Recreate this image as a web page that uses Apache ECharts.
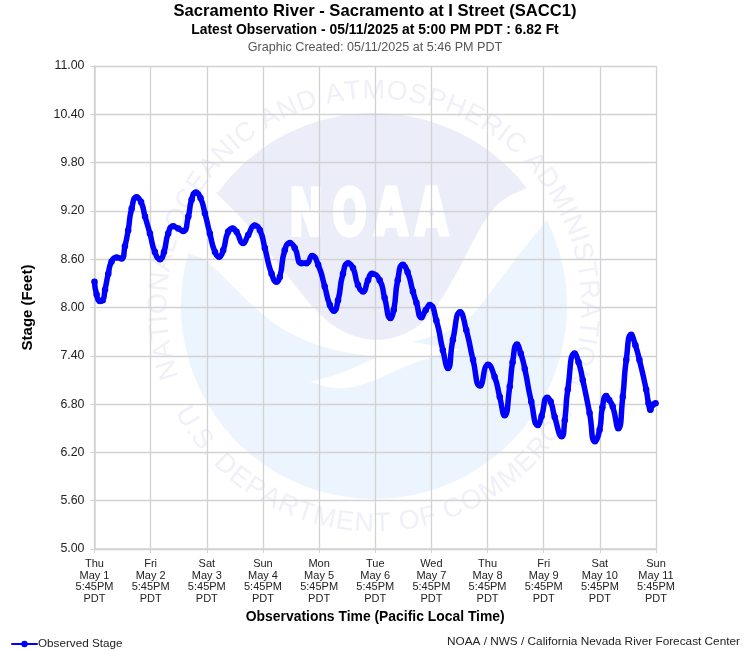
<!DOCTYPE html>
<html>
<head>
<meta charset="utf-8">
<title>Sacramento River - Sacramento at I Street (SACC1)</title>
<script src="https://cdn.jsdelivr.net/npm/echarts@6/dist/echarts.min.js"></script>
<style>
	html, body { margin: 0; padding: 0; background: #fff; }
	#chart { width: 750px; height: 650px; }
</style>
</head>
<body>
<div id="chart"></div>
<script>
// hours after Thu May 1 5:45PM
const obsHours = [
	0, 0.9, 2.3, 3.5, 4.5, 5.9, 7.3, 9.5, 11.6, 13, 14.4, 15.9, 18, 19.9, 21.6, 23.7, 25.8, 28, 29.7, 31.5,
	33.6, 35.8, 37.9, 40.1, 41.5, 43.3, 45.3, 47.2, 49.3, 51.5, 53.3, 55, 57.1, 59, 60.7, 63.5, 65.7, 68.5, 70.7, 72.8,
	75.7, 77.8, 79.2, 81.3, 83.5, 85.6, 88.5, 90.6, 93, 95.6, 98.4, 100.6, 102.3, 104.1, 106.2, 108.4, 110.5, 112.6, 114.8, 116.9,
	118.6, 121.9, 124, 126.5, 127.9, 129.6, 131.8, 133.8, 136.1, 137.6, 139.7, 141.6, 143.3, 146.1, 148.9, 151.1, 153.2, 156.3, 158.9, 161.8,
	164.8, 168.2, 171, 173.2, 175.3, 177.5, 178.7, 180.6, 182.2, 183.9, 186.7, 189.5, 191.1, 193.5, 195, 196.7, 199.7, 201, 202.3, 205.2,
	206.9, 208.7, 211.6, 213.9, 215.9, 217.1, 218.7, 220, 221.5, 223.9, 225.8, 227.3, 229.4, 231.2, 232.9, 235.8, 236.8, 237.6, 238.5, 239.8
];
const obsStage = [
	8.32, 8.16, 8.08, 8.09, 8.22, 8.42, 8.57, 8.62, 8.61, 8.76, 8.96, 9.23, 9.37, 9.31, 9.13, 8.92, 8.69, 8.60, 8.69, 8.92,
	9.01, 8.98, 8.95, 9.13, 9.34, 9.43, 9.36, 9.17, 8.92, 8.69, 8.63, 8.71, 8.94, 8.98, 8.94, 8.80, 8.90, 9.02, 8.96, 8.74,
	8.42, 8.32, 8.38, 8.71, 8.80, 8.74, 8.55, 8.55, 8.64, 8.53, 8.26, 8.03, 7.96, 8.09, 8.42, 8.55, 8.49, 8.28, 8.20, 8.34,
	8.42, 8.34, 8.12, 7.87, 7.97, 8.34, 8.53, 8.44, 8.20, 8.06, 7.88, 7.97, 8.03, 7.84, 7.47, 7.25, 7.60, 7.94, 7.72, 7.35,
	7.03, 7.29, 7.14, 6.89, 6.66, 7.02, 7.32, 7.54, 7.43, 7.24, 6.83, 6.54, 6.65, 6.88, 6.83, 6.64, 6.40, 6.60, 6.98, 7.43,
	7.32, 7.10, 6.69, 6.34, 6.48, 6.76, 6.90, 6.85, 6.77, 6.50, 6.89, 7.35, 7.66, 7.53, 7.35, 6.98, 6.81, 6.73, 6.79, 6.81
];
const timeLabels = [
	'Thu\nMay 1\n5:45PM\nPDT', 'Fri\nMay 2\n5:45PM\nPDT', 'Sat\nMay 3\n5:45PM\nPDT', 'Sun\nMay 4\n5:45PM\nPDT',
	'Mon\nMay 5\n5:45PM\nPDT', 'Tue\nMay 6\n5:45PM\nPDT', 'Wed\nMay 7\n5:45PM\nPDT', 'Thu\nMay 8\n5:45PM\nPDT',
	'Fri\nMay 9\n5:45PM\nPDT', 'Sat\nMay 10\n5:45PM\nPDT', 'Sun\nMay 11\n5:45PM\nPDT'
];

const FONT = '"Liberation Sans", Arial, sans-serif';
const GRID_COLOR = '#d2d2d2';
const LOGO_X = 374, LOGO_Y = 306, LOGO_R = 193;

// rounds the corners of a hand-traced outline, the ends stay where they are
function soften(pts) {
	let cur = pts;
	for (let n = 0; n < 2; n++) {
		let out = [cur[0]];
		for (let i = 0; i < cur.length - 1; i++) {
			let a = cur[i], b = cur[i + 1];
			out.push([a[0] * 0.75 + b[0] * 0.25, a[1] * 0.75 + b[1] * 0.25]);
			out.push([a[0] * 0.25 + b[0] * 0.75, a[1] * 0.25 + b[1] * 0.75]);
		}
		out.push(cur[cur.length - 1]);
		cur = out;
	}
	return cur;
}

function logoShape(points, fill) {
	return { type: 'polygon', z: -3, silent: true, shape: { points: points }, style: { fill: fill } };
}

// the NOAA seal behind the plot
function buildSwoosh() {
	let top = [];
	for (let d = -54; d <= 52; d += 2) {
		let a = d * Math.PI / 180;
		top.push([LOGO_X + LOGO_R * Math.sin(a), LOGO_Y - LOGO_R * Math.cos(a)]);
	}
	let lavender = top.concat(soften([[527, 188], [500, 200], [480, 227], [457, 273], [433, 313], [410, 333], [377, 342],
		[343, 333], [317, 313], [283, 270], [247, 223], [215, 192]]));

	let white = [[140, 100], [140, 253]].concat(
		soften([[187, 253], [203, 258], [220, 273], [253, 307], [287, 333], [330, 350], [377, 357]]),
		soften([[377, 357], [343, 373], [310, 382]]),
		soften([[310, 382], [337, 390], [370, 383], [403, 367], [437, 355], [460, 350]]),
		[[413, 342]],
		soften([[413, 342], [463, 327], [490, 293], [520, 253], [547, 220]]),
		[[600, 100]]
	);

	return [
		{ type: 'circle', z: -4, silent: true, shape: { cx: LOGO_X, cy: LOGO_Y, r: LOGO_R }, style: { fill: '#ecf5fd' } },
		logoShape(white, '#fff'),
		logoShape(lavender, '#ebedf9')
	];
}

// one text element per letter, spread by its real width over the arc
function ringLetters(str, radius, from, to, lower) {
	let ctx = document.createElement('canvas').getContext('2d');
	let font = '27px ' + FONT;
	ctx.font = font;
	let widths = str.split('').map(c => ctx.measureText(c).width);
	let total = widths.reduce((s, w) => s + w, 0);
	let pos = 0;
	return str.split('').map((c, i) => {
		let a = (from + (to - from) * (pos + widths[i] / 2) / total) * Math.PI / 180;
		pos += widths[i];
		return {
			type: 'text',
			z: -2,
			silent: true,
			x: LOGO_X + radius * Math.sin(a),
			y: lower ? LOGO_Y + radius * Math.cos(a) : LOGO_Y - radius * Math.cos(a),
			rotation: lower ? a : -a,
			style: { text: c, font: font, fill: '#eff0f8', align: 'center', verticalAlign: 'middle' }
		};
	});
}

// the logo letters sit apart from each other
function logoLetter(c, x, scale) {
	return {
		type: 'text', z: -2, silent: true,
		x: x, y: 218, scaleX: scale, scaleY: 0.95,
		style: {
			text: c, font: 'bold 68px "DejaVu Sans"', fill: '#fff', stroke: '#fff', lineWidth: 4,
			align: 'center', verticalAlign: 'middle'
		}
	};
}

let chart = echarts.init(document.getElementById('chart'), null, { renderer: 'canvas' });

chart.setOption({
	animation: false,
	backgroundColor: '#fff',
	textStyle: { fontFamily: FONT },
	title: [
		{
			text: 'Sacramento River - Sacramento at I Street (SACC1)',
			left: 375, top: 3, textAlign: 'center', padding: 0,
			textStyle: { fontFamily: FONT, fontSize: 16.6, fontWeight: 'bold', color: '#000' }
		},
		{
			text: 'Latest Observation - 05/11/2025 at 5:00 PM PDT : 6.82 Ft',
			left: 375, top: 23, textAlign: 'center', padding: 0,
			textStyle: { fontFamily: FONT, fontSize: 13.9, fontWeight: 'bold', color: '#000' }
		},
		{
			text: 'Graphic Created: 05/11/2025 at 5:46 PM PDT',
			left: 375, top: 41, textAlign: 'center', padding: 0,
			textStyle: { fontFamily: FONT, fontSize: 12.6, fontWeight: 'normal', color: '#555' }
		},
		{
			text: 'NOAA / NWS / California Nevada River Forecast Center',
			right: 10, top: 636, padding: 0,
			textStyle: { fontFamily: FONT, fontSize: 11.8, fontWeight: 'normal', color: '#222' }
		}
	],
	grid: { left: 94.5, right: 94, top: 66, bottom: 101, containLabel: false },
	legend: {
		left: 11, top: 638,
		itemWidth: 25, itemHeight: 8, itemGap: 0,
		padding: 0,
		data: ['Observed Stage'],
		textStyle: { fontFamily: FONT, fontSize: 11.7, color: '#222', padding: [0, 0, 0, -4] },
		lineStyle: { width: 2 }
	},
	graphic: buildSwoosh().concat(
		ringLetters('NATIONAL OCEANIC AND ATMOSPHERIC ADMINISTRATION', 215, -110, 112, false),
		ringLetters('U.S. DEPARTMENT OF COMMERCE', 218, -62, 62, true),
		[logoLetter('N', 306, 0.6), logoLetter('O', 349.5, 0.6), logoLetter('A', 391, 0.63), logoLetter('A', 431.5, 0.63)]
	),
	xAxis: {
		type: 'value',
		min: 0, max: 240, interval: 24,
		name: 'Observations Time (Pacific Local Time)',
		nameLocation: 'middle',
		nameGap: 59,
		nameTextStyle: { fontFamily: FONT, fontSize: 13.9, fontWeight: 'bold', color: '#000' },
		axisLine: { lineStyle: { color: GRID_COLOR, width: 1.5 } },
		axisTick: { length: 4, lineStyle: { color: GRID_COLOR } },
		splitLine: { show: true, lineStyle: { color: GRID_COLOR, width: 1.3 } },
		axisLabel: {
			fontSize: 11, lineHeight: 11.7, color: '#222', margin: 9,
			formatter: v => timeLabels[v / 24]
		}
	},
	yAxis: {
		type: 'value',
		min: 5, max: 11, interval: 0.6,
		name: 'Stage (Feet)',
		nameLocation: 'middle',
		nameGap: 59,
		nameTextStyle: { fontFamily: FONT, fontSize: 15, fontWeight: 'bold', color: '#000' },
		axisLine: { show: true, lineStyle: { color: GRID_COLOR, width: 1.5 } },
		axisTick: { show: true, length: 4, lineStyle: { color: GRID_COLOR } },
		splitLine: { show: true, lineStyle: { color: GRID_COLOR, width: 1.3 } },
		axisLabel: {
			fontSize: 12.4, color: '#222', margin: 10,
			formatter: v => v.toFixed(2)
		}
	},
	series: [{
		name: 'Observed Stage',
		type: 'line',
		data: obsHours.map((h, i) => [h, obsStage[i]]),
		smooth: 0.6,
		clip: false,
		symbol: 'circle',
		symbolSize: 6.5,
		showAllSymbol: true,
		lineStyle: { color: '#0000ff', width: 5.5, cap: 'round', join: 'round' },
		itemStyle: { color: '#0000ff' }
	}]
});
</script>
</body>
</html>
